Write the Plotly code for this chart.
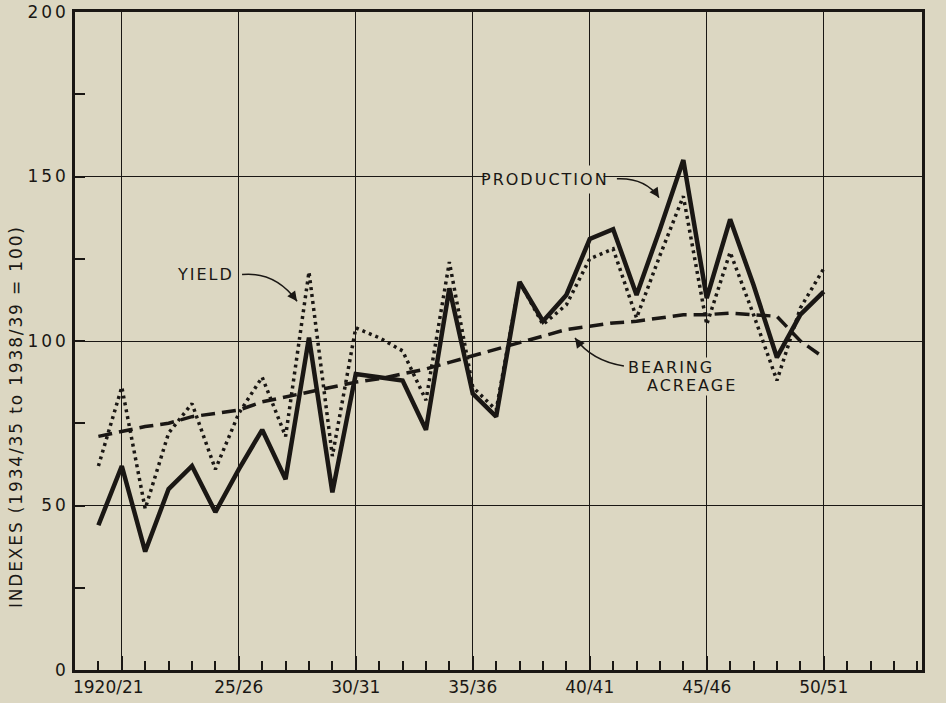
import plotly.graph_objects as go

years = list(range(1919, 1951))
production = [44, 62, 36, 55, 62, 48, 61, 73, 58, 101, 54, 90, 89, 88, 73, 116,
              84, 77, 118, 106, 114, 131, 134, 114, 134, 155, 113, 137, 117, 95, 108, 115]
yield_idx = [62, 86, 49, 72, 81, 61, 78, 89, 71, 121, 65, 104, 101, 97, 82, 124,
             86, 79, 118, 105, 111, 125, 128, 107, 126, 144, 105, 127, 108, 88, 110, 122]
bearing = [71, 72.5, 74, 75, 77, 78, 79, 81.5, 83, 84.5, 86, 87.5, 88.5, 90, 91.5, 93.5,
           95.5, 97.5, 99.5, 101.5, 103.5, 104.5, 105.5, 106, 107, 108, 108, 108.5, 108, 107.5, 100, 95]

x_tickvals = [1920, 1925, 1930, 1935, 1940, 1945, 1950]
x_ticktext = ["1920/21" + "\u00a0" * 5, "25/26", "30/31", "35/36", "40/41", "45/46", "50/51"]
y_tickvals = [0, 50, 100, 150, 200]

BG = "#dcd7c2"
INK = "#1a1714"
FONT = "DejaVu Sans"

fig = go.Figure()
fig.add_trace(go.Scatter(x=years, y=bearing, mode="lines",
                         line=dict(color=INK, width=3.5, dash="14px,7px"), name="Bearing acreage"))
fig.add_trace(go.Scatter(x=years, y=yield_idx, mode="lines",
                         line=dict(color=INK, width=3.5, dash="3px,4px"), name="Yield"))
fig.add_trace(go.Scatter(x=years, y=production, mode="lines",
                         line=dict(color=INK, width=4.5), name="Production"))

# curved leader lines
curves = [
    ((1941.16, 149.3), (1942.36, 149.7), (1942.96, 143.6)),
    ((1925.14, 120.2), (1926.55, 121.2), (1927.49, 112.1)),
    ((1941.46, 92.4), (1940.09, 93.9), (1939.37, 100.9)),
]
for (s, c, e) in curves:
    fig.add_shape(type="path", xref="x", yref="y",
                  path=f"M {s[0]},{s[1]} Q {c[0]},{c[1]} {e[0]},{e[1]}",
                  line=dict(color=INK, width=1.5))
heads = [((1942.96, 143.6), -6, -9), ((1927.49, 112.1), -6, -8), ((1939.37, 100.9), 6, 8)]
for (pt, ax, ay) in heads:
    fig.add_annotation(x=pt[0], y=pt[1], ax=ax, ay=ay, axref="pixel", ayref="pixel",
                       text="", showarrow=True, arrowhead=2, arrowsize=1.3,
                       arrowwidth=1.5, arrowcolor=INK, standoff=0)

labels = [("PRODUCTION", 1938.09, 149.1, 4), ("YIELD", 1923.56, 120.3, 4),
          ("BEARING", 1943.49, 91.9, 0), ("ACREAGE", 1944.37, 86.4, 0)]
for (t, x, y, pad) in labels:
    fig.add_annotation(x=x, y=y, text=t, showarrow=False, bgcolor=BG,
                       font=dict(family=FONT, size=16, color=INK), borderpad=pad)

fig.add_annotation(xref="paper", yref="paper", x=-0.0697, y=0.385, textangle=-90,
                   xanchor="center", yanchor="middle",
                   text="INDEXES (1934/35 to 1938/39 = 100)", showarrow=False,
                   font=dict(family=FONT, size=17, color=INK))

fig.update_xaxes(range=[1918, 1954.2], tickvals=x_tickvals, ticktext=x_ticktext,
                 ticks="inside", ticklen=14, tickwidth=1.5, tickcolor=INK,
                 showgrid=True, gridcolor=INK, gridwidth=1.2,
                 showline=True, linecolor=INK, linewidth=3, mirror=True,
                 zeroline=False, automargin=False,
                 minor=dict(dtick=1, tick0=1918, ticks="inside", ticklen=9,
                            tickwidth=1.5, tickcolor=INK, showgrid=False),
                 tickfont=dict(family=FONT, size=17, color=INK))
fig.update_yaxes(range=[0, 200], tickvals=y_tickvals,
                 ticks="inside", ticklen=10, tickwidth=1.5, tickcolor=INK,
                 showgrid=True, gridcolor=INK, gridwidth=1.2,
                 showline=True, linecolor=INK, linewidth=2.5, mirror=True,
                 zeroline=False, automargin=False,
                 minor=dict(dtick=25, ticks="inside", ticklen=10,
                            tickwidth=1.5, tickcolor=INK, showgrid=False),
                 tickfont=dict(family=FONT, size=17, color=INK))

fig.update_layout(width=946, height=703, paper_bgcolor=BG, plot_bgcolor=BG,
                  showlegend=False, margin=dict(l=75, r=24, t=12, b=33))

post = """
document.body.style.margin='0';
document.body.style.background='#dcd7c2';
var gd=document.getElementById('{plot_id}');
gd.querySelectorAll('.annotation-text').forEach(function(e){
  var t=e.textContent;
  if(t.indexOf('INDEXES')===0){ e.style.letterSpacing='1.85px'; }
  else if(t.length>0){ e.style.letterSpacing='2px'; }
});
gd.querySelectorAll('.ytick text').forEach(function(e){ e.style.letterSpacing='3px'; });
"""

fig.write_html("out.html", post_script=post, config={"displayModeBar": False})
